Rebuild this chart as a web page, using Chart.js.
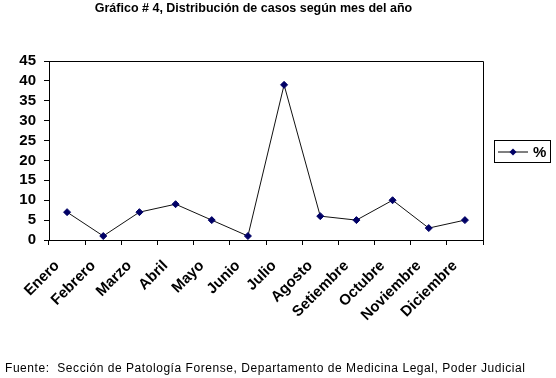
<!DOCTYPE html>
<html><head><meta charset="utf-8">
<script src="https://cdn.jsdelivr.net/npm/chart.js@4/dist/chart.umd.min.js"></script>
<style>
html,body{margin:0;padding:0;background:#fff;}
#wrap{position:relative;width:556px;height:378px;overflow:hidden;}
#c{position:absolute;left:0;top:0;}
#title{position:absolute;left:0;top:1px;width:507px;text-align:center;font:bold 12.5px "Liberation Sans Narrow","Arial Narrow",Arial,sans-serif;color:#000;}
#foot{position:absolute;left:5px;top:361px;font:12px "Liberation Sans",Arial,sans-serif;color:#000;letter-spacing:0.55px;white-space:nowrap;}
#legend{position:absolute;left:494px;top:140px;width:55px;height:21px;border:1px solid #000;font:bold 15px "Liberation Sans",Arial,sans-serif;display:flex;align-items:center;}
</style></head><body>
<div id="wrap">
<canvas id="c" width="556" height="378"></canvas>
<div id="title">Gráfico # 4, Distribución de casos según mes del año</div>
<div id="legend"></div>
<div id="foot">Fuente:&nbsp; Sección de Patología Forense, Departamento de Medicina Legal, Poder Judicial</div>
</div>
<script>
const months = ["Enero","Febrero","Marzo","Abril","Mayo","Junio","Julio","Agosto","Setiembre","Octubre","Noviembre","Diciembre"];
const percent = [7,1,7,9,5,1,39,6,5,10,3,5];
const seriesName = "%";
const yTicks = [0,5,10,15,20,25,30,35,40,45];

const boxPlugin = {
  id:'box',
  afterDraw(chart){
    const a = chart.chartArea, ctx = chart.ctx;
    ctx.save();
    ctx.strokeStyle='#000'; ctx.lineWidth=1;
    ctx.beginPath();
    ctx.moveTo(Math.round(a.left)+0.5, Math.round(a.top)+0.5);
    ctx.lineTo(Math.round(a.right)+0.5, Math.round(a.top)+0.5);
    ctx.lineTo(Math.round(a.right)+0.5, Math.round(a.bottom)+0.5);
    ctx.stroke();
    ctx.restore();
  }
};

const chart = new Chart(document.getElementById('c'), {
  type:'line',
  data:{labels:months, datasets:[{label:seriesName, data:percent, borderColor:'#111', borderWidth:1,
    pointStyle:'rectRot', pointRadius:3.5, pointBackgroundColor:'#000066', pointBorderColor:'#000066', pointBorderWidth:1, tension:0}]},
  options:{
    responsive:false, animation:false, devicePixelRatio:1,
    layout:{padding:{left:0,top:61,right:73,bottom:0}},
    plugins:{legend:{display:false}, title:{display:false}, tooltip:{enabled:false}},
    scales:{
      x:{type:'category', offset:true,
        afterFit(ax){ax.height = 138;},
        grid:{offset:true, drawOnChartArea:false, color:'#000', tickLength:5},
        border:{color:'#000', width:1},
        ticks:{minRotation:45, maxRotation:45, autoSkip:false, labelOffset:-10, color:'#000', padding:12, font:{family:'"Liberation Sans",Arial,sans-serif', size:15, weight:'bold'}}},
      y:{min:0, max:45, afterBuildTicks(ax){ax.ticks = yTicks.map(v=>({value:v}));},
        afterFit(ax){ax.width = 49;},
        grid:{drawOnChartArea:false, color:'#000', tickLength:5},
        border:{color:'#000', width:1},
        ticks:{autoSkip:false, color:'#000', padding:8, font:{family:'"Liberation Sans",Arial,sans-serif', size:15, weight:'bold'}}}
    }
  },
  plugins:[boxPlugin]
});

const lg = document.getElementById('legend');
lg.innerHTML = '<svg width="32" height="10" style="margin-left:3px"><line x1="0" y1="5" x2="30" y2="5" stroke="#000" stroke-width="1"/><polygon points="15,1.5 18.5,5 15,8.5 11.5,5" fill="#000066"/></svg><span style="margin-left:3px">'+seriesName+'</span>';
</script>
</body></html>
